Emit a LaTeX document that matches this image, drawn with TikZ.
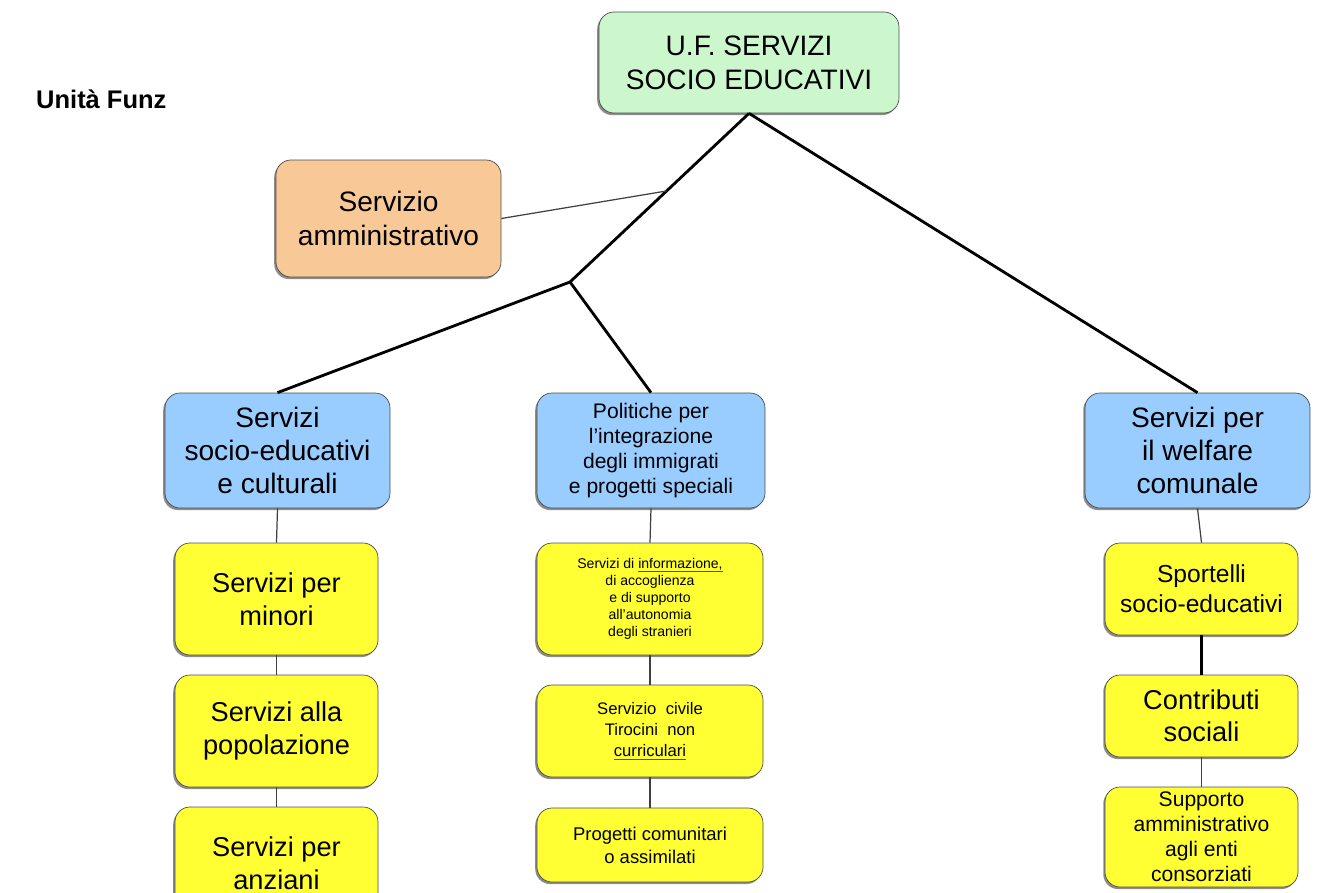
\documentclass[tikz,border=0pt]{standalone}
\usepackage{fontspec}
\setmainfont{Liberation Sans}
\usetikzlibrary{calc,shadows}
\definecolor{UfGreen}{RGB}{204,247,204}
\definecolor{AmmOrange}{RGB}{248,201,150}
\definecolor{AreaBlue}{RGB}{153,204,255}
\definecolor{LeafYellow}{RGB}{255,255,51}
\newcommand{\fs}[2]{\fontsize{#1}{#2}\selectfont}
\newsavebox{\spellbox}
\newcommand{\spell}[1]{\sbox{\spellbox}{#1}%
  \rlap{\color{red}\rule[-1.6pt]{\wd\spellbox}{0.5pt}}\usebox{\spellbox}}

\begin{document}
\begin{tikzpicture}[x=0.2mm,y=-0.2mm,
  box/.style={draw=black!70,rounded corners=3mm,align=center,inner sep=1pt,
    drop shadow={shadow xshift=-1pt,shadow yshift=-1.2pt,fill=black!45,opacity=1}},
  leaf/.style={box,fill=LeafYellow},
  area/.style={box,fill=AreaBlue,minimum height=23mm},
  main/.style={line width=1.6pt},
  link/.style={line width=0.7pt,black!75}]
  \useasboundingbox (0,0) rectangle (1322,893);
  % top level
  \node[font=\bfseries\fs{14.5}{17},anchor=west] (title) at (30,99) {Unità Funz};
  \node[box,fill=UfGreen,minimum width=60mm,minimum height=20.2mm,font=\fs{16}{19.5}] (uf) at (749,62.5)
    {U.F. SERVIZI\\SOCIO EDUCATIVI};
  \node[box,fill=AmmOrange,minimum width=45mm,minimum height=23.4mm,font=\fs{16}{19}] (amm) at (388.5,218.5)
    {Servizio\\amministrativo};
  % areas
  \node[area,minimum width=45mm,font=\fs{16}{19}] (sec) at (277.5,450.5) {Servizi\\socio-educativi\\e culturali};
  \node[area,minimum width=45.6mm,font=\fs{12}{14.2}] (pol) at (651,450.5)
    {Politiche per\\l’integrazione\\degli immigrati\\e progetti speciali};
  \node[area,minimum width=45mm,font=\fs{16}{19}] (wel) at (1197.5,450.5) {Servizi per\\il welfare\\comunale};
  % left column
  \node[leaf,minimum width=40.6mm,minimum height=22.4mm,font=\fs{15.5}{19}] (min) at (276.5,599) {Servizi per\\minori};
  \node[leaf,minimum width=40.6mm,minimum height=22.4mm,font=\fs{15.5}{19}] (pop) at (276.5,731) {Servizi alla\\popolazione};
  \node[leaf,minimum width=40.6mm,minimum height=22.4mm,font=\fs{15.5}{19}] (anz) at (276.5,863) {Servizi per\\anziani};
  % middle column
  \node[leaf,minimum width=45.2mm,minimum height=22.4mm,font=\fs{8}{9.6}] (inf) at (650,599)
    {Servizi di \spell{informazione,}\\di accoglienza\\e di supporto\\all’autonomia\\degli stranieri};
  \node[leaf,minimum width=45.2mm,minimum height=18.4mm,font=\fs{9.5}{12}] (civ) at (650,731)
    {Servizio~ civile\\Tirocini~ non\\\spell{curriculari}};
  \node[leaf,minimum width=45.2mm,minimum height=14.8mm,font=\fs{10.5}{13}] (prog) at (650,845)
    {Progetti comunitari\\o assimilati};
  % right column
  \node[leaf,minimum width=38.6mm,minimum height=18.4mm,font=\fs{14}{17}] (spo) at (1201.5,589)
    {Sportelli\\socio-educativi};
  \node[leaf,minimum width=38.6mm,minimum height=16.4mm,font=\fs{15.5}{18.5}] (con) at (1201.5,716)
    {Contributi\\sociali};
  \node[leaf,minimum width=38.6mm,minimum height=20mm,font=\fs{12}{14.2}] (sup) at (1201.5,837)
    {Supporto\\amministrativo\\agli enti\\consorziati};
  % connectors
  \coordinate (jn) at (570,282);
  \draw[main] (uf.south) -- (jn);
  \draw[main] (jn) -- (sec.north);
  \draw[main] (jn) -- (pol.north);
  \draw[main] (uf.south) -- (wel.north);
  \draw[link] (amm.east) -- ($(uf.south)!0.46!(jn)$);
  \draw[link] (sec.south) -- (min.north);
  \draw[link] (min.south) -- (pop.north);
  \draw[link] (pop.south) -- (anz.north);
  \draw[link] (pol.south) -- (inf.north);
  \draw[link] (inf.south) -- (civ.north);
  \draw[link] (civ.south) -- (prog.north);
  \draw[link] (wel.south) -- (spo.north);
  \draw[main,line width=1.2pt] (spo.south) -- (con.north);
  \draw[link] (con.south) -- (sup.north);
\end{tikzpicture}
\end{document}
